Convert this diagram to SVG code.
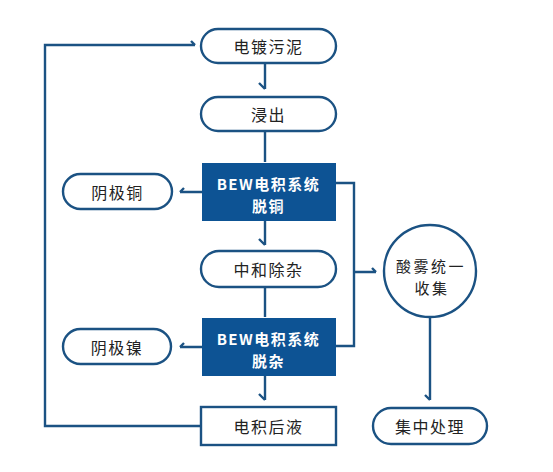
<svg xmlns="http://www.w3.org/2000/svg" width="553" height="472" viewBox="0 0 553 472">
<style>
.pill{fill:#fff;stroke:#1b5283;stroke-width:2.4}
.box{fill:#0d5394;stroke:none}
.t{font-family:"Noto Sans CJK SC","Noto Sans",sans-serif;font-size:16px;fill:#222;text-anchor:middle;dominant-baseline:central;letter-spacing:1.5px}
.t2{font-family:"Noto Sans CJK SC","Noto Sans",sans-serif;font-size:15px;fill:#222;text-anchor:middle;dominant-baseline:central;letter-spacing:2.5px}
.tw{font-family:"Noto Sans CJK SC","Noto Sans",sans-serif;font-size:15px;font-weight:bold;fill:#fff;text-anchor:middle;dominant-baseline:central;letter-spacing:1.5px}
.c{fill:none;stroke:#1b5283;stroke-width:2.4;stroke-linejoin:miter}
</style>
<rect width="553" height="472" fill="#fff"/>
<g id="connectors">
<path class="c" d="M265,63 V89 M265,89 L259,83"/>
<path class="c" d="M265,130 V162"/>
<path class="c" d="M202,192 H180 M180,192 L184,188"/>
<path class="c" d="M265,221 V245 M265,245 L259,239"/>
<path class="c" d="M265,287 V317"/>
<path class="c" d="M202,347 H180 M180,347 L184,343"/>
<path class="c" d="M265,376 V400 M265,400 L259,394"/>
<path class="c" d="M336,183 H354 V346 H336"/>
<path class="c" d="M354,272 H376 M376,272 L372,268"/>
<path class="c" d="M430,317 V400 M430,400 L425,395"/>
<path class="c" d="M201,426 H45 V45 H195 M195,45 L191,41"/>
</g>
<g id="n1"><rect class="pill" x="201" y="29" width="135" height="34" rx="17"/><text class="t" x="268.5" y="46">电镀污泥</text></g>
<g id="n2"><rect class="pill" x="201" y="97" width="135" height="34" rx="17"/><text class="t" x="268.5" y="114">浸出</text></g>
<g id="n3"><rect class="box" x="202" y="163" width="134" height="58"/><text class="tw" x="268.5" y="183">BEW电积系统</text><text class="tw" x="268.5" y="205">脱铜</text></g>
<g id="n4"><rect class="pill" x="63" y="174" width="109" height="35" rx="17.5"/><text class="t" x="117.5" y="191.5">阴极铜</text></g>
<g id="n5"><rect class="pill" x="201" y="251" width="135" height="36" rx="18"/><text class="t" x="268.5" y="269">中和除杂</text></g>
<g id="n6"><rect class="box" x="202" y="318" width="134" height="58"/><text class="tw" x="268.5" y="338">BEW电积系统</text><text class="tw" x="268.5" y="360">脱杂</text></g>
<g id="n7"><rect class="pill" x="63" y="329" width="108" height="35" rx="17.5"/><text class="t" x="117" y="346.5">阴极镍</text></g>
<g id="n8"><rect class="pill" x="201" y="407" width="135" height="38"/><text class="t" x="268.5" y="426">电积后液</text></g>
<g id="n9"><circle class="pill" cx="430" cy="271" r="46"/><text class="t2" x="431" y="265">酸雾统一</text><text class="t2" x="432" y="287">收集</text></g>
<g id="n10"><rect class="pill" x="373" y="408" width="114" height="36" rx="18"/><text class="t" x="430" y="426">集中处理</text></g>
</svg>
